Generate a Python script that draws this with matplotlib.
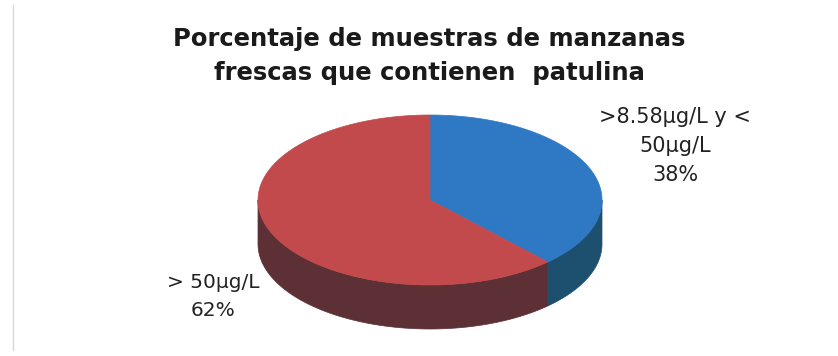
import numpy as np
import matplotlib
matplotlib.use('Agg')
import matplotlib.pyplot as plt
from matplotlib.patches import Polygon

# Datos del gráfico
categorias = ['>8.58µg/L y <\n50µg/L', '> 50µg/L']
porcentajes = [38, 62]
colores_tapa = ['#2f78c4', '#c24a4c']
colores_lado = ['#1d4f6e', '#5c3035']

fig = plt.figure(figsize=(8.38, 3.56), dpi=100)
ax = fig.add_axes([0, 0, 1, 1])
ax.set_xlim(0, 838)
ax.set_ylim(356, 0)
ax.axis('off')

# geometría del "pastel 3D" en pixeles
cx, cy = 430, 200
rx, ry = 172, 85
alto = 44


def punto(t):
    return cx + rx * np.cos(np.radians(t)), cy - ry * np.sin(np.radians(t))


# ángulos de cada porción (empezando arriba, sentido horario)
fracciones = np.array(porcentajes) / sum(porcentajes)
inicio = 90.0
angulos = []
for f in fracciones:
    fin = inicio - f * 360
    angulos.append((inicio, fin))
    inicio = fin

# lados (solo la mitad de adelante se ve)
for (a1, a2), col in zip(angulos, colores_lado):
    hi = min(a1, 0.0)
    lo = max(a2, -180.0)
    if hi <= lo:
        continue
    t = np.linspace(hi, lo, 200)
    x, y = punto(t)
    xs = np.concatenate([x, x[::-1]])
    ys = np.concatenate([y, y[::-1] + alto])
    ax.add_patch(Polygon(np.column_stack([xs, ys]), closed=True,
                         facecolor=col, edgecolor=col, lw=0.5))

# tapa de arriba
for (a1, a2), col in zip(angulos, colores_tapa):
    t = np.linspace(a1, a2, 300)
    x, y = punto(t)
    xs = np.concatenate([[cx], x])
    ys = np.concatenate([[cy], y])
    ax.add_patch(Polygon(np.column_stack([xs, ys]), closed=True,
                         facecolor=col, edgecolor=col, lw=0.5))

# etiquetas con porcentaje
ax.text(675, 146, categorias[0] + '\n%d%%' % porcentajes[0], ha='center',
        va='center', fontsize=15, color='#222222', linespacing=1.55)
ax.text(213, 297, categorias[1] + '\n%d%%' % porcentajes[1], ha='center',
        va='center', fontsize=14.5, color='#222222', linespacing=1.6)

# título
ax.text(429, 56, 'Porcentaje de muestras de manzanas\nfrescas que contienen  patulina',
        ha='center', va='center', fontsize=17.5, fontweight='bold',
        color='#1a1a1a', linespacing=1.55)

# línea gris del borde izquierdo
ax.plot([13, 13], [5, 350], color='#d9d9d9', lw=1)

fig.savefig('out.png', dpi=100)
